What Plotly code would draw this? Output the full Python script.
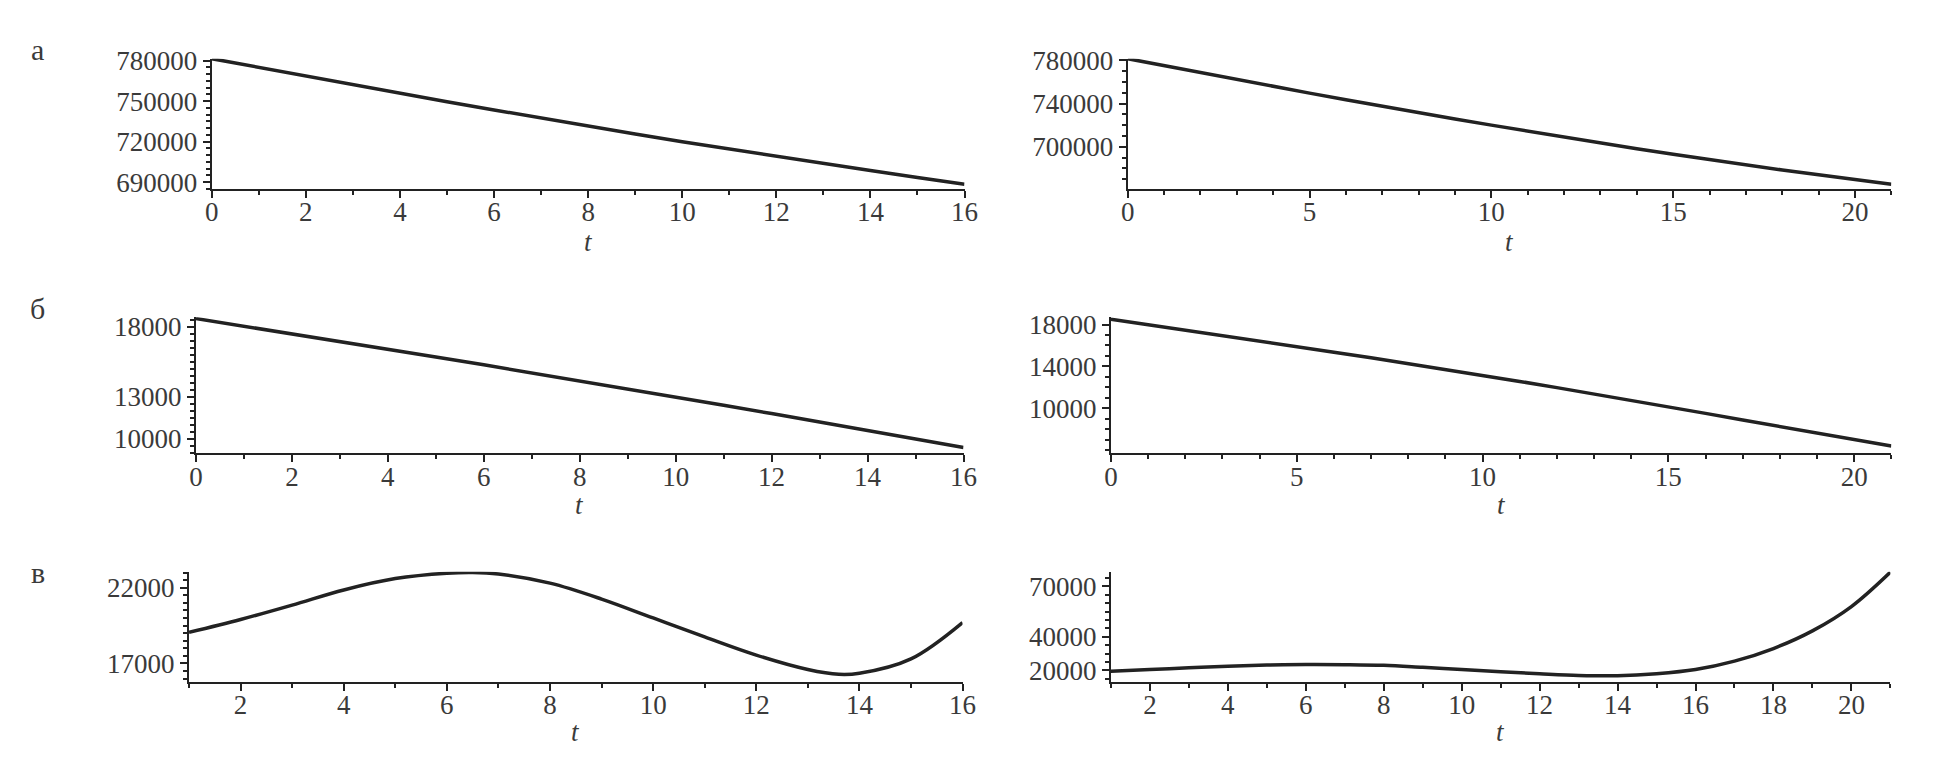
import plotly.graph_objects as go

W, H = 1938, 780

# ---------------- data ----------------
t_a_left = list(range(0, 17))
v_a_left = [781500, 775000, 768500, 762000, 755800, 749600, 743500, 737400, 731500,
            725700, 720000, 714500, 709000, 703800, 698600, 693500, 688500]

t_a_right = list(range(0, 22))
v_a_right = [781500, 775000, 768500, 762000, 755800, 749600, 743500, 737400, 731500,
             725700, 720000, 714400, 708800, 703400, 698100, 693000, 688000, 683200,
             678500, 674000, 669500, 665200]

t_b_left = list(range(0, 17))
v_b_left = [18600, 18060, 17515, 16965, 16410, 15850, 15285, 14715, 14140, 13560,
            12975, 12385, 11790, 11190, 10585, 9975, 9360]

t_b_right = list(range(0, 22))
v_b_right = [18500, 17990, 17470, 16950, 16430, 15900, 15360, 14820, 14270, 13710,
             13150, 12570, 11980, 11380, 10770, 10150, 9520, 8890, 8260, 7630, 7000, 6400]

t_c_left = [1, 2, 3, 4, 5, 6, 6.5, 7, 8, 9, 10, 11, 12, 13, 13.6, 14, 15, 16]
v_c_left = [19050, 19900, 20850, 21850, 22600, 22950, 23000, 22900, 22300, 21250, 20000,
            18750, 17550, 16600, 16280, 16350, 17300, 19700]

t_c_right = list(range(1, 22))
v_c_right = [19500, 20500, 21500, 22500, 23200, 23500, 23400, 23000, 21800, 20500,
             19200, 18000, 17000, 16800, 18000, 20500, 25500, 33000, 43500, 58000, 78500]

panel_letters = ["а", "б", "в"]
x_title = "t"

# ---------------- layout spec ----------------
FONT = "Liberation Serif"
INK = "#222222"
TXT = "#3a3a3a"

panels = [
    # (t, v, px_left, px_right, px_top, px_bottom, xrange, yrange, xticks, xminor, yticks, yminor, shape)
    (t_a_left, v_a_left, 207, 968, 47, 181, [0, 16], [685000, 781500],
     [0, 2, 4, 6, 8, 10, 12, 14, 16], 1, [690000, 720000, 750000, 780000], 5000, "linear"),
    (t_a_right, v_a_right, 1133, 1905, 47, 181, [0, 21], [661000, 781500],
     [0, 5, 10, 15, 20], 1, [700000, 740000, 780000], 10000, "linear"),
    (t_b_left, v_b_left, 191, 967, 313, 453, [0, 16], [8950, 18700],
     [0, 2, 4, 6, 8, 10, 12, 14, 16], 1, [10000, 13000, 18000], 500, "linear"),
    (t_b_right, v_b_right, 1116, 1905, 313, 453, [0, 21], [5720, 18700],
     [0, 5, 10, 15, 20], 1, [10000, 14000, 18000], 1000, "linear"),
    (t_c_left, v_c_left, 184, 966, 575, 688, [1, 16], [15800, 23050],
     [2, 4, 6, 8, 10, 12, 14, 16], 1, [17000, 22000], 500, "spline"),
    (t_c_right, v_c_right, 1116, 1904, 575, 688, [1, 21], [13300, 78700],
     [2, 4, 6, 8, 10, 12, 14, 16, 18, 20], 1, [20000, 40000, 70000], 5000, "spline"),
]
t_label_y = [236, 236, 506, 506, 740, 740]
letter_y = [38, 304, 576]

fig = go.Figure()
layout = dict(
    width=W, height=H,
    margin=dict(l=0, r=0, t=0, b=0),
    paper_bgcolor="white", plot_bgcolor="white",
    showlegend=False,
    font=dict(family=FONT, color=TXT, size=27),
)
annotations = []

for i, (t, v, pl, pr, pt, pb, xr, yr, xt, xm, yt, ym, shp) in enumerate(panels):
    n = i + 1
    xa = "x" if n == 1 else f"x{n}"
    ya = "y" if n == 1 else f"y{n}"
    line = dict(color=INK, width=3.5, shape=shp)
    if shp == "spline":
        line["smoothing"] = 1.0
    fig.add_trace(go.Scatter(x=t, y=v, mode="lines", xaxis=xa, yaxis=ya, line=line))
    common = dict(showgrid=False, zeroline=False, showline=True, linecolor=INK, linewidth=2,
                  ticks="outside", ticklen=7, tickwidth=2, tickcolor=INK,
                  tickfont=dict(family=FONT, size=27, color=TXT), tickmode="array")
    layout["xaxis" if n == 1 else f"xaxis{n}"] = dict(
        common, domain=[pl / W, pr / W], range=xr, anchor=ya,
        tickvals=xt, ticktext=[str(x) for x in xt], ticklabelstandoff=-9,
        minor=dict(tickmode="linear", tick0=0, dtick=xm, ticks="outside", ticklen=4,
                   tickwidth=2, tickcolor=INK))
    layout["yaxis" if n == 1 else f"yaxis{n}"] = dict(
        common, domain=[1 - pb / H, 1 - pt / H], range=yr, anchor=xa,
        tickvals=yt, ticktext=[str(y) for y in yt],
        minor=dict(tickmode="linear", tick0=0, dtick=ym, ticks="outside", ticklen=4,
                   tickwidth=2, tickcolor=INK))
    annotations.append(dict(x=(pl + pr) / 2 / W, y=1 - t_label_y[i] / H, xref="paper", yref="paper",
                            text=f"<i>{x_title}</i>", showarrow=False, xanchor="center", yanchor="middle",
                            font=dict(family=FONT, size=27, color=TXT)))

for letter, ly in zip(panel_letters, letter_y):
    annotations.append(dict(x=31 / W, y=1 - ly / H, xref="paper", yref="paper", text=letter,
                            showarrow=False, xanchor="center", yanchor="middle",
                            font=dict(family=FONT, size=30, color=TXT)))

layout["annotations"] = annotations
fig.update_layout(**layout)
fig.write_html("out.html", config={"displayModeBar": False},
               post_script="document.body.style.margin='0';")
